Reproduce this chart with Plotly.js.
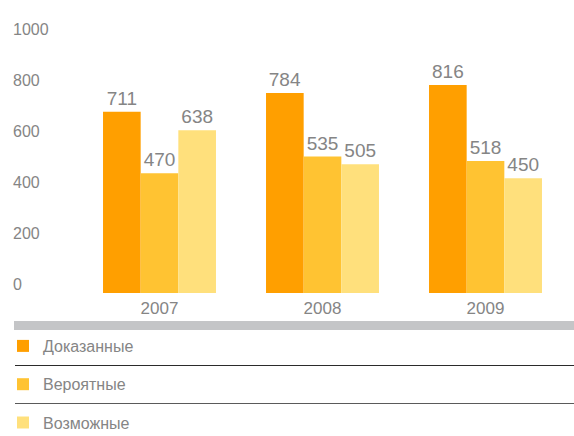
<!DOCTYPE html>
<html>
<head>
<meta charset="utf-8">
<script src="https://cdn.plot.ly/plotly-3.0.1.min.js"></script>
<style>html,body{margin:0;padding:0;background:#fff;}#chart{width:574px;height:436px;}</style>
</head>
<body>
<div id="chart"></div>
<script>
var years = ['2007', '2008', '2009'];
var seriesNames = ['Доказанные', 'Вероятные', 'Возможные'];
var proved = [711, 784, 816];
var probable = [470, 535, 518];
var possible = [638, 505, 450];
var yTicks = [0, 200, 400, 600, 800, 1000];

var colors = ['#ff9f00', '#ffc332', '#ffe07c'];
var values = [proved, probable, possible];
var textGray = '#858585';
var fontFam = '"Liberation Sans", Arial, sans-serif';

var traces = values.map(function (vals, i) {
  return {
    type: 'bar',
    name: seriesNames[i],
    legendgroup: 'g' + i,
    x: years,
    y: vals,
    text: vals.map(String),
    textposition: 'outside',
    textfont: {size: 19, color: textGray, family: fontFam},
    cliponaxis: false,
    marker: {color: colors[i], line: {width: 0}},
    hoverinfo: 'none'
  };
});

var W = 574, L = 9, R = 7, T = 38, B = 143;
var pw = W - L - R, ph = 436 - T - B;
function px(x) { return (x - L) / pw; }
function py(y) { return (T + ph - y) / ph; }

var layout = {
  width: 574,
  height: 436,
  margin: {l: L, r: R, t: T, b: B, autoexpand: false},
  paper_bgcolor: '#ffffff',
  plot_bgcolor: '#ffffff',
  font: {family: fontFam, color: textGray},
  barmode: 'group',
  bargap: 0.307,
  bargroupgap: 0,
  showlegend: true,
  legend: {
    orientation: 'v',
    x: px(3), xanchor: 'left',
    y: py(329), yanchor: 'top',
    tracegroupgap: 14.5,
    font: {size: 16, color: textGray, family: fontFam},
    bgcolor: 'rgba(0,0,0,0)',
    borderwidth: 0
  },
  xaxis: {
    type: 'category',
    domain: [px(78), 1],
    range: [-0.5, 2.5],
    showgrid: false, zeroline: false, showline: false,
    ticks: '',
    tickfont: {size: 17, color: textGray},
    ticklabelstandoff: 3,
    fixedrange: true
  },
  yaxis: {
    range: [0, 1000],
    anchor: 'free',
    position: 0,
    tickvals: yTicks,
    ticktext: yTicks.map(String),
    showgrid: false, zeroline: false, showline: false,
    ticks: '',
    ticklabelposition: 'inside',
    ticklabeloverflow: 'allow',
    ticklabelshift: -9,
    ticklabelstandoff: 0,
    tickfont: {size: 16, color: textGray},
    fixedrange: true
  },
  shapes: [
    {type: 'rect', xref: 'paper', yref: 'paper', x0: px(14), x1: px(574), y0: py(330), y1: py(321),
     fillcolor: '#c4c5c7', line: {width: 0}},
    {type: 'line', xref: 'paper', yref: 'paper', x0: px(15), x1: px(574), y0: py(365.5), y1: py(365.5),
     line: {color: '#2b2b2b', width: 1}},
    {type: 'line', xref: 'paper', yref: 'paper', x0: px(15), x1: px(574), y0: py(403.5), y1: py(403.5),
     line: {color: '#5a5a5a', width: 1}}
  ]
};

Plotly.newPlot('chart', traces, layout, {displayModeBar: false, staticPlot: true});
</script>
</body>
</html>
